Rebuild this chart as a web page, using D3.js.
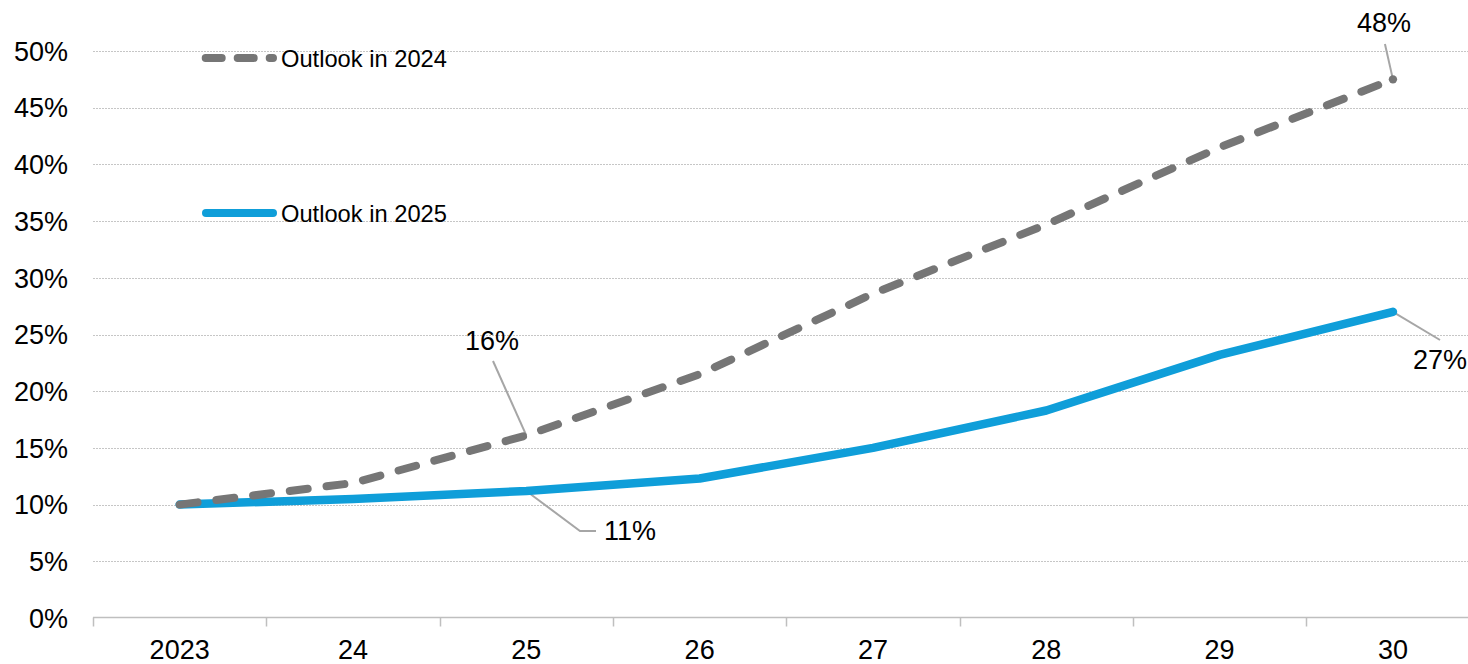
<!DOCTYPE html>
<html><head><meta charset="utf-8">
<script src="https://cdn.jsdelivr.net/npm/d3@7"></script>
<style>body{margin:0;background:#fff}svg{display:block;font-family:"Liberation Sans",Arial,sans-serif}</style>
</head><body><svg id="c" width="1468" height="664"></svg>
<script>
const categories = ["2023","24","25","26","27","28","29","30"];
const outlook2024 = [10, 11.9, 16.1, 21.5, 28.6, 34.7, 41.5, 47.5];
const outlook2025 = [10, 10.5, 11.2, 12.3, 15.0, 18.3, 23.2, 27.0];
const yTicks = [0,5,10,15,20,25,30,35,40,45,50];
const seriesNames = ["Outlook in 2024","Outlook in 2025"];

const svg = d3.select("#c");
const x = d3.scaleBand().domain(categories).range([93, 1479.6]);
const y = d3.scaleLinear().domain([0,50]).range([618, 51]);
const cx = d => x(d) + x.bandwidth()/2;

// gridlines
svg.append("g").selectAll("line").data(yTicks.filter(t=>t>0)).join("line")
  .attr("x1",93).attr("x2",1468).attr("y1",d=>Math.round(y(d))+0.5).attr("y2",d=>Math.round(y(d))+0.5)
  .attr("stroke","#c6c6c6").attr("stroke-width",1).attr("stroke-dasharray","2 1");

// y labels
svg.append("g").selectAll("text").data(yTicks).join("text")
  .attr("x",68).attr("y",d=>y(d)).attr("dy","0.36em").attr("text-anchor","end")
  .attr("font-size",27).attr("fill","#000").text(d=>d+"%");

// x axis
const xa = svg.append("g").attr("transform","translate(0,617.5)");
xa.append("line").attr("x1",93).attr("x2",1468).attr("stroke","#bfbfbf").attr("stroke-width",1.5);
xa.selectAll("line.t").data(categories).join("line").attr("class","t")
  .attr("x1",d=>Math.round(x(d))+0.5).attr("x2",d=>Math.round(x(d))+0.5).attr("y1",0).attr("y2",9)
  .attr("stroke","#bfbfbf").attr("stroke-width",1.5);
xa.selectAll("text").data(categories).join("text")
  .attr("x",d=>cx(d)).attr("y",31.5).attr("dy","0.36em").attr("text-anchor","middle")
  .attr("font-size",27).text(d=>d);

const line = d3.line().x((d,i)=>cx(categories[i])).y(d=>y(d));

// leader lines
const lead = svg.append("g").attr("stroke","#a6a6a6").attr("stroke-width",2).attr("fill","none");
lead.append("path").attr("d",`M${cx("30")-8},44 L${cx("30")},${y(outlook2024[7])}`);
lead.append("path").attr("d",`M${cx("30")},${y(outlook2025[7])} L1440,340`);
lead.append("path").attr("d",`M493,361 L${cx("25")},${y(outlook2024[2])}`);
lead.append("path").attr("d",`M${cx("25")},${y(outlook2025[2])} L580,531 L596,531`);

// series
svg.append("path").datum(outlook2025).attr("d",line).attr("fill","none")
  .attr("stroke","#0f9ed9").attr("stroke-width",8.5).attr("stroke-linecap","round").attr("stroke-linejoin","round");
svg.append("path").datum(outlook2024).attr("d",line).attr("fill","none")
  .attr("stroke","#767676").attr("stroke-width",8).attr("stroke-linecap","round").attr("stroke-dasharray","18 19");
svg.append("circle").attr("cx",cx("30")).attr("cy",y(outlook2024[7])).attr("r",4.2).attr("fill","#767676");

// data labels
const lbl = svg.append("g").attr("font-size",27);
lbl.append("text").attr("x",1384).attr("y",22).attr("dy","0.36em").attr("text-anchor","middle").text(Math.round(outlook2024[7])+"%");
lbl.append("text").attr("x",1440).attr("y",359).attr("dy","0.36em").attr("text-anchor","middle").text(Math.round(outlook2025[7])+"%");
lbl.append("text").attr("x",492).attr("y",340).attr("dy","0.36em").attr("text-anchor","middle").text(Math.round(outlook2024[2])+"%");
lbl.append("text").attr("x",604).attr("y",530).attr("dy","0.36em").attr("text-anchor","start").text(Math.round(outlook2025[2])+"%");

// legend
const lg = svg.append("g");
lg.append("line").attr("x1",205.7).attr("x2",273).attr("y1",58).attr("y2",58)
  .attr("stroke","#767676").attr("stroke-width",8).attr("stroke-linecap","round").attr("stroke-dasharray","16 16");
lg.append("text").attr("x",281).attr("y",58).attr("dy","0.36em").attr("font-size",23.7).text(seriesNames[0]);
lg.append("line").attr("x1",206).attr("x2",273).attr("y1",213).attr("y2",213)
  .attr("stroke","#0f9ed9").attr("stroke-width",8).attr("stroke-linecap","round");
lg.append("text").attr("x",281).attr("y",213).attr("dy","0.36em").attr("font-size",23.7).text(seriesNames[1]);
</script></body></html>
